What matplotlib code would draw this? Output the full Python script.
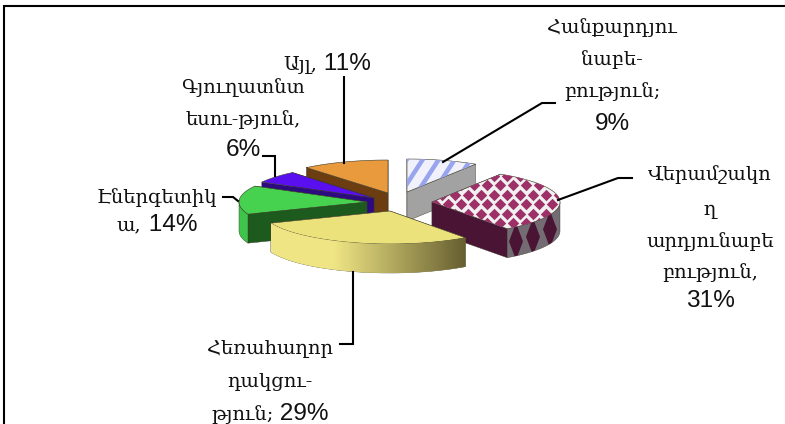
import re

import numpy as np
import matplotlib
matplotlib.use("Agg")
import matplotlib.pyplot as plt
from matplotlib.patches import Polygon

# Share of each sector, clockwise from twelve o'clock
sectors = ["Հանքարդյունաբերություն", "Վերամշակող արդյունաբերություն", "Հեռահաղորդակցություն",
           "Էներգետիկա", "Գյուղատնտեսություն", "Այլ"]
shares = [9, 31, 29, 14, 6, 11]

label_lines = [
    ["Հանքարդյու", "նաբե-", "բություն;", "9%"],
    ["Վերամշակո", "ղ", "արդյունաբե", "բություն,", "31%"],
    ["Հեռահաղոր", "դակցու-", "թյուն; 29%"],
    ["Էներգետիկ", "ա, 14%"],
    ["Գյուղատնտ", "եսու-թյուն,", "6%"],
    ["Այլ, 11%"],
]

# ── Layout, in pixels ─────────────────────────────────────────────
RX, RY, DEPTH = 128, 33, 29
apexes = [(407, 192), (432, 202), (390, 211), (367, 202), (374, 198), (388, 193)]
top_colors = ["#f0f1fb", "#f1f1f1", "#ece27c", "#46d24e", "#5a10ee", "#e89a3c"]
face_colors = ["#a2a2a2", "#4a1535", "#d8cf70", "#1d5a1d", "#2e0a80", "#6b3d10"]
rim_colors = ["#a2a2a2", "#736d73", "#d8cf70", "#3fc44a", "#2e0a80", "#6b3d10"]
draw_order = [0, 5, 4, 3, 1, 2]

label_x = [612, 710, 270, 157, 243, 327]
label_y = [[33, 65, 97, 130], [180, 215, 247, 278, 307], [353, 387, 420], [203, 231], [93, 125, 156], [70]]
leaders = [
    [(555, 103), (542, 103), (443, 162)],
    [(632, 178), (618, 178), (558, 200)],
    [(340, 344), (353, 344), (353, 272)],
    [(223, 197), (233, 197), (238, 201)],
    [(263, 156), (275, 156), (275, 176)],
    [(344, 77), (344, 163)],
]

ARMENIAN_FONT, ARMENIAN_SIZE = "DejaVu Serif", 14
LATIN_FONT, LATIN_SIZE = "Liberation Sans", 17.6
LINE = "#3a3a2a"


def rim_point(apex, angle):
    return apex[0] + RX * np.sin(angle), apex[1] - RY * np.cos(angle)


def extrude(points):
    return [(x, y + DEPTH) for x, y in points]


def draw_wedge(ax, i, t0, t1):
    apex = apexes[i]
    ts = np.linspace(t0, t1, 80)
    arc = [rim_point(apex, t) for t in ts]
    top = [apex] + arc

    # radial faces, the one further back first
    ends = sorted([t0, t1], key=lambda t: rim_point(apex, t)[1])
    for t in ends:
        edge = [apex, rim_point(apex, t)]
        ax.add_patch(Polygon(edge + extrude(edge)[::-1], fc=face_colors[i], ec=LINE, lw=0.3, zorder=2))

    # outer rim, only the part turned towards the viewer
    front = [p for t, p in zip(ts, arc) if np.cos(t) <= 0]
    rim = None
    if len(front) > 1:
        rim = Polygon(front + extrude(front)[::-1], fc=rim_colors[i], ec=LINE, lw=0.3, zorder=2)
        ax.add_patch(rim)

    top_patch = Polygon(top, fc=top_colors[i], ec=LINE, lw=0.4, zorder=2)
    ax.add_patch(top_patch)
    return top_patch, rim


def draw_label_line(ax, line, x, y):
    # Armenian and Latin runs are set in different fonts and sizes on one baseline
    runs = [r for r in re.split(r"([\d%\s]+)", line) if r]
    renderer = ax.figure.canvas.get_renderer()
    items = []
    for run in runs:
        latin = re.fullmatch(r"[\d%\s]+", run) is not None
        t = ax.text(0, y, run.replace(" ", "\u00a0"), ha="left", va="baseline", color="#111111", zorder=4,
                    family=LATIN_FONT if latin else ARMENIAN_FONT,
                    fontsize=LATIN_SIZE if latin else ARMENIAN_SIZE)
        items.append((t, t.get_window_extent(renderer).width))
    cursor = x - sum(w for _, w in items) / 2
    for t, w in items:
        t.set_x(cursor)
        cursor += w


fig = plt.figure(figsize=(7.85, 4.24), dpi=100)
ax = fig.add_axes([0, 0, 1, 1])
ax.set_xlim(0, 785)
ax.set_ylim(424, 0)
ax.axis("off")

# only the top and left edges of the frame fall inside the canvas
ax.plot([785, 3.8, 3.8], [6, 6, 424], color="black", lw=1.5, solid_joinstyle="miter", zorder=1)

edges = np.radians(np.concatenate([[0], np.cumsum(shares)]) * 360 / sum(shares))

for i in draw_order:
    top_patch, rim = draw_wedge(ax, i, edges[i], edges[i + 1])
    ax_x, ax_y = apexes[i]

    if i == 0:
        # diagonal stripes
        for x0 in np.arange(ax_x - 40, ax_x + 110, 16):
            stripe, = ax.plot([x0, x0 + 26], [ax_y + 4, ax_y - 36], color="#98a4ee", lw=3.2, zorder=2.1)
            stripe.set_clip_path(top_patch)

    if i == 1:
        # diamond check on the top face and stretched diamonds on the rim
        for row, y0 in enumerate(np.arange(ax_y - 36, ax_y + 34, 9.5)):
            xs = np.arange(ax_x - 10 + (row % 2) * 6.5, ax_x + 135, 13)
            dots = ax.scatter(xs, np.full_like(xs, y0), marker="D", s=34, color="#9e3068", lw=0, zorder=2.1)
            dots.set_clip_path(top_patch)
        for x0 in np.arange(ax_x + 84, ax_x + 132, 17):
            y0 = ax_y + RY * np.sqrt(max(0, 1 - ((x0 - ax_x) / RX) ** 2))
            band = Polygon([(x0 - 7, y0 + DEPTH / 2), (x0, y0 - 4), (x0 + 7, y0 + DEPTH / 2), (x0, y0 + DEPTH + 4)],
                           fc="#4a1535", ec="none", zorder=2.1)
            ax.add_patch(band)
            band.set_clip_path(rim)

    if i == 2:
        # rim shaded from pale yellow to dark olive
        shade = np.linspace(0, 1, 256).reshape(1, -1, 1)
        pale, dark = np.array([0.94, 0.90, 0.52]), np.array([0.40, 0.37, 0.19])
        grad = np.where(shade < 0.35, pale, pale + (dark - pale) * (shade - 0.35) / 0.65)
        im = ax.imshow(grad, extent=(ax_x - RX, ax_x + 76, 275, 210), aspect="auto", zorder=2.1)
        im.set_clip_path(rim)
        ax.set_xlim(0, 785)
        ax.set_ylim(424, 0)

for pts in leaders:
    xs, ys = zip(*pts)
    ax.plot(xs, ys, color="black", lw=1.5, solid_joinstyle="miter", zorder=3)

fig.canvas.draw()
for lines, x, ys in zip(label_lines, label_x, label_y):
    for line, y in zip(lines, ys):
        draw_label_line(ax, line, x, y)

fig.savefig("out.png", dpi=100)
